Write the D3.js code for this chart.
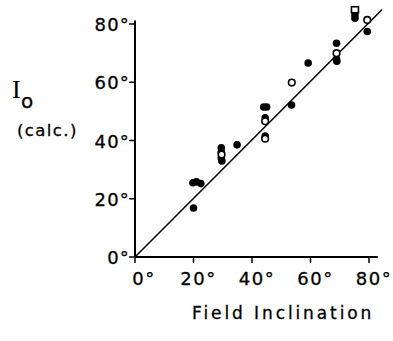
<!DOCTYPE html>
<html><head><meta charset="utf-8">
<script src="https://cdn.jsdelivr.net/npm/d3@7"></script>
<style>body{margin:0;background:#fff}svg{display:block}</style>
</head><body>
<svg id="c" width="393" height="341"></svg>
<script>
const xTicks = [0, 20, 40, 60, 80];
const yTicks = [0, 20, 40, 60, 80];
const filledX = [19.8, 21.0, 22.5, 20.0, 29.5, 29.5, 29.5, 29.7, 34.9, 44.0, 45.0, 44.5, 44.5, 53.5, 59.2, 68.9, 68.9, 69.0, 75.2, 75.2, 79.4];
const filledY = [25.5, 25.8, 25.2, 16.8, 37.5, 36.0, 34.0, 33.0, 38.5, 51.5, 51.5, 47.8, 41.5, 52.2, 66.6, 73.4, 68.0, 67.2, 83.2, 82.0, 77.4];
const openX = [29.6, 44.5, 44.5, 53.6, 68.9, 79.4];
const openY = [35.2, 46.6, 40.6, 59.9, 70.0, 81.4];
const squareX = [75.2];
const squareY = [84.9];
const lineX = [0, 84.5];
const lineY = [0, 85];
const xTitle = "Field Inclination";

const svg = d3.select("#c");
const x = d3.scaleLinear().domain([0, 80]).range([135, 369]);
const y = d3.scaleLinear().domain([0, 80]).range([257, 24]);
const font = "'DejaVu Sans', Arial, sans-serif";

// axes lines
svg.append("line").attr("x1", x(0)).attr("x2", x(83)).attr("y1", y(0)).attr("y2", y(0))
  .attr("stroke", "#000").attr("stroke-width", 2);
svg.append("line").attr("x1", x(0)).attr("x2", x(0)).attr("y1", y(0)).attr("y2", y(81.2))
  .attr("stroke", "#000").attr("stroke-width", 2);

// x ticks
const xa = svg.append("g");
xTicks.forEach(t => {
  xa.append("line").attr("x1", x(t)).attr("x2", x(t)).attr("y1", y(0)).attr("y2", y(0) + 6)
    .attr("stroke", "#000").attr("stroke-width", 1.5);
  xa.append("text").attr("x", x(t) + (t === 0 ? 9 : 5)).attr("y", 285)
    .attr("text-anchor", "middle").attr("font-family", font).attr("font-size", 18)
    .attr("stroke", "#000").attr("stroke-width", 0.3)
    .attr("letter-spacing", 1.5).text(t + "°");
});
// y ticks
const ya = svg.append("g");
yTicks.forEach(t => {
  ya.append("line").attr("x1", x(0) - 6).attr("x2", x(0)).attr("y1", y(t)).attr("y2", y(t))
    .attr("stroke", "#000").attr("stroke-width", 1.5);
  ya.append("text").attr("x", 130).attr("y", y(t) + 7)
    .attr("text-anchor", "end").attr("font-family", font).attr("font-size", 18)
    .attr("stroke", "#000").attr("stroke-width", 0.3)
    .attr("letter-spacing", 1.2).text(t + "°");
});

// diagonal line
svg.append("line").attr("x1", x(lineX[0])).attr("y1", y(lineY[0]))
  .attr("x2", x(lineX[1])).attr("y2", y(lineY[1]))
  .attr("stroke", "#000").attr("stroke-width", 1.5);

// filled points
svg.append("g").selectAll("circle").data(filledX).join("circle")
  .attr("cx", d => x(d)).attr("cy", (d, i) => y(filledY[i])).attr("r", 3.8)
  .attr("fill", "#000");
// open points
svg.append("g").selectAll("circle").data(openX).join("circle")
  .attr("cx", d => x(d)).attr("cy", (d, i) => y(openY[i])).attr("r", 3.3)
  .attr("fill", "#fff").attr("stroke", "#000").attr("stroke-width", 1.6);
// open squares
svg.append("g").selectAll("rect").data(squareX).join("rect")
  .attr("x", d => x(d) - 3.5).attr("y", (d, i) => y(squareY[i]) - 3).attr("width", 7).attr("height", 6)
  .attr("fill", "#fff").attr("stroke", "#000").attr("stroke-width", 1.6);

// axis titles
svg.append("text").attr("x", 12).attr("y", 98).attr("font-family", "'Liberation Serif', serif")
  .attr("font-size", 26).text("I");
svg.append("text").attr("x", 21).attr("y", 108).attr("font-family", font)
  .attr("font-size", 20).attr("stroke", "#000").attr("stroke-width", 0.3).text("o");
svg.append("text").attr("x", 17).attr("y", 136).attr("font-family", font)
  .attr("font-size", 16.5).attr("letter-spacing", 1.4)
  .attr("stroke", "#000").attr("stroke-width", 0.3).text("(calc.)");
svg.append("text").attr("x", 192).attr("y", 319).attr("font-family", font)
  .attr("font-size", 17).attr("letter-spacing", 2.9)
  .attr("stroke", "#000").attr("stroke-width", 0.3).text(xTitle);
</script>
</body></html>
